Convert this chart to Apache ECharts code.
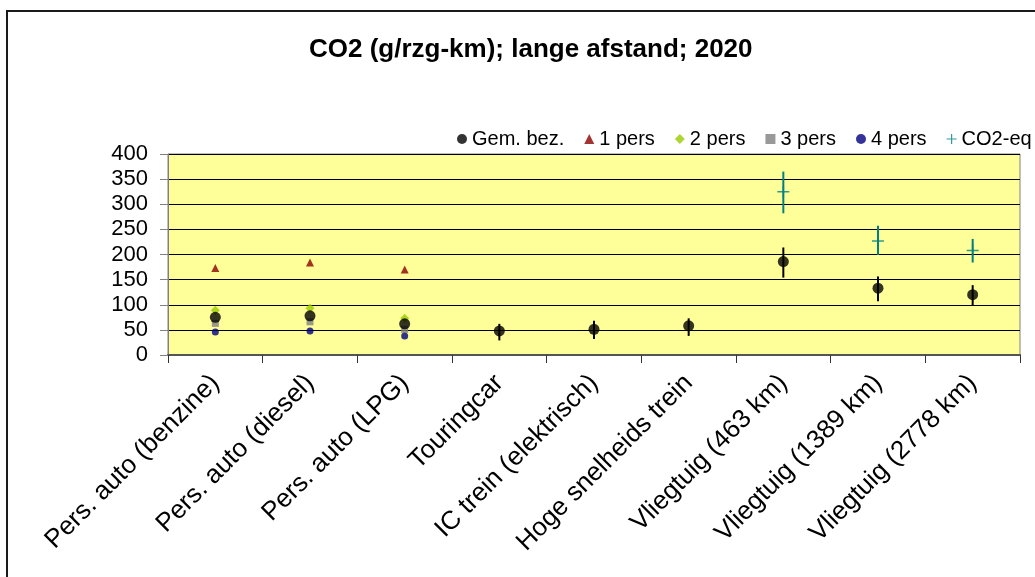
<!DOCTYPE html>
<html>
<head>
<meta charset="utf-8">
<script src="https://cdn.jsdelivr.net/npm/echarts@6/dist/echarts.min.js"></script>
<style>
html,body{margin:0;padding:0;background:#fff;}
#chart{width:1035px;height:577px;}
</style>
</head>
<body>
<div id="chart"></div>
<script>
var categories = ['Pers. auto (benzine)','Pers. auto (diesel)','Pers. auto (LPG)','Touringcar','IC trein (elektrisch)','Hoge snelheids trein','Vliegtuig (463 km)','Vliegtuig (1389 km)','Vliegtuig (2778 km)'];
var seriesNames = ['Gem. bez.','1 pers','2 pers','3 pers','4 pers','CO2-eq'];
var gem     = [75, 78, 62, 48, 51, 58, 186, 133, 120];
var gemLow  = [null, null, null, 29, 32, 38, 154, 107, 98];
var gemHigh = [null, null, null, 62, 68, 73, 214, 156, 139];
var pers1 = [173, 184, 170, null, null, null, null, null, null];
var pers2 = [89, 93, 73, null, null, null, null, null, null];
var pers3 = [63, 66, 51, null, null, null, null, null, null];
var pers4 = [46, 48, 38, null, null, null, null, null, null];
var co2eq     = [null, null, null, null, null, null, 325, 227, 208];
var co2eqLow  = [null, null, null, null, null, null, 282, 199, 184];
var co2eqHigh = [null, null, null, null, null, null, 365, 257, 231];
var yTicks = [0, 50, 100, 150, 200, 250, 300, 350, 400];

var FONT = '"Liberation Sans", Arial, sans-serif';
var PLUS = 'path://M4.4,0 H5.6 V4.4 H10 V5.6 H5.6 V10 H4.4 V5.6 H0 V4.4 H4.4 Z';

function errData(low, high) {
  var out = [];
  for (var i = 0; i < categories.length; i++) {
    if (low[i] != null && high[i] != null) out.push([i, low[i], high[i]]);
  }
  return out;
}
function errSeries(low, high, color, width, z) {
  return {
    type: 'custom',
    name: 'err',
    z: z,
    silent: true,
    data: errData(low, high),
    encode: { x: 0, y: [1, 2] },
    renderItem: function (params, api) {
      var p1 = api.coord([api.value(0), api.value(1)]);
      var p2 = api.coord([api.value(0), api.value(2)]);
      return {
        type: 'line',
        shape: { x1: p1[0], y1: p1[1], x2: p2[0], y2: p2[1] },
        style: { stroke: color, lineWidth: width }
      };
    }
  };
}

var chart = echarts.init(document.getElementById('chart'));
chart.setOption({
  animation: false,
  backgroundColor: '#ffffff',
  textStyle: { fontFamily: FONT },
  title: {
    text: 'CO2 (g/rzg-km); lange afstand; 2020',
    left: 304,
    top: 32,
    textStyle: { fontFamily: FONT, fontSize: 26, fontWeight: 'bold', color: '#000' }
  },
  graphic: [{
    type: 'rect',
    shape: { x: 7, y: 11, width: 1200, height: 800 },
    style: { fill: 'none', stroke: '#1a1a1a', lineWidth: 2 },
    silent: true,
    z: 100
  }],
  legend: {
    left: 452,
    top: 124,
    width: 1000,
    itemGap: 20,
    itemWidth: 10,
    itemHeight: 10,
    textStyle: { fontFamily: FONT, fontSize: 20, color: '#000' },
    data: seriesNames
  },
  grid: {
    left: 168, right: 15, top: 154, bottom: 222,
    show: true,
    backgroundColor: '#FFFF99',
    borderColor: '#808080',
    borderWidth: 1,
    containLabel: false
  },
  xAxis: {
    type: 'category',
    data: categories,
    boundaryGap: true,
    axisLine: { lineStyle: { color: '#555', width: 2 } },
    axisTick: { show: true, length: 8, inside: false, lineStyle: { color: '#333' } },
    axisLabel: { rotate: 45, fontSize: 26, color: '#000', fontFamily: FONT, margin: 24, interval: 0 },
    splitLine: { show: false }
  },
  yAxis: {
    type: 'value',
    min: yTicks[0],
    max: yTicks[yTicks.length - 1],
    interval: yTicks[1] - yTicks[0],
    axisLine: { show: true, lineStyle: { color: '#808080', width: 1 } },
    axisTick: { show: true, length: 8, lineStyle: { color: '#808080' } },
    axisLabel: { fontSize: 22, color: '#000', fontFamily: FONT, margin: 20 },
    splitLine: { show: true, lineStyle: { color: '#000', width: 1 } }
  },
  series: [
    errSeries(gemLow, gemHigh, '#000', 2, 3),
    errSeries(co2eqLow, co2eqHigh, '#008080', 2, 3),
    { name: '1 pers', type: 'scatter', data: pers1, symbol: 'triangle', symbolSize: 8, itemStyle: { color: '#8B0000' }, z: 4 },
    { name: '2 pers', type: 'scatter', data: pers2, symbol: 'diamond', symbolSize: 9, itemStyle: { color: '#99CC00' }, z: 4 },
    { name: '3 pers', type: 'scatter', data: pers3, symbol: 'rect', symbolSize: 7, itemStyle: { color: '#808080' }, z: 4 },
    { name: '4 pers', type: 'scatter', data: pers4, symbol: 'circle', symbolSize: 7, itemStyle: { color: '#000080' }, z: 4 },
    { name: 'Gem. bez.', type: 'scatter', data: gem, symbol: 'circle', symbolSize: 11, itemStyle: { color: '#000' }, z: 5 },
    { name: 'CO2-eq', type: 'scatter', data: co2eq, symbol: PLUS, symbolSize: 12, itemStyle: { color: '#008080' }, z: 5 }
  ]
});
</script>
</body>
</html>
